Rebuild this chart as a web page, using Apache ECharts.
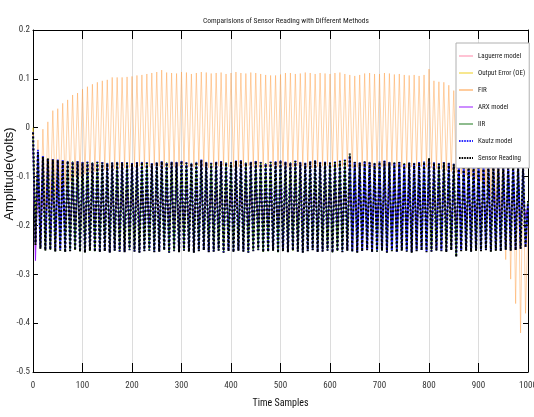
<!DOCTYPE html>
<html>
<head>
<meta charset="utf-8">
<script src="https://cdn.jsdelivr.net/npm/echarts@6/dist/echarts.min.js"></script>
<style>html,body{margin:0;padding:0;background:#fff}#c{width:534px;height:417px}</style>
</head>
<body>
<div id="c"></div>
<script>
// Time samples: readings shown at every half cycle (period = 10 samples)
const samplesPerCycle = 10;
const xTicks = [0,100,200,300,400,500,600,700,800,900,1000];
const yTicks = [-0.5,-0.4,-0.3,-0.2,-0.1,0,0.1,0.2];

// Peaks at samples 0,10,...,1000 ; troughs at samples 5,15,...,995
const sensorPeaks = [-0.010,-0.050,-0.060,-0.063,-0.065,-0.066,-0.067,-0.068,-0.070,-0.069,
-0.071,-0.070,-0.072,-0.070,-0.071,-0.073,-0.072,-0.070,-0.071,-0.072,
-0.073,-0.071,-0.070,-0.072,-0.074,-0.071,-0.069,-0.072,-0.070,-0.071,
-0.068,-0.072,-0.073,-0.070,-0.066,-0.071,-0.073,-0.070,-0.069,-0.072,
-0.071,-0.068,-0.067,-0.072,-0.070,-0.068,-0.071,-0.074,-0.070,-0.069,
-0.067,-0.070,-0.072,-0.068,-0.071,-0.073,-0.069,-0.067,-0.071,-0.070,
-0.072,-0.070,-0.068,-0.066,-0.053,-0.070,-0.072,-0.069,-0.071,-0.073,
-0.070,-0.068,-0.071,-0.072,-0.070,-0.074,-0.072,-0.073,-0.071,-0.070,
-0.062,-0.072,-0.074,-0.071,-0.073,-0.075,-0.072,-0.074,-0.073,-0.075,
-0.074,-0.072,-0.075,-0.073,-0.076,-0.074,-0.075,-0.073,-0.076,-0.080,
-0.150];
const sensorTroughs = [-0.240,-0.248,-0.252,-0.250,-0.254,-0.252,-0.255,-0.253,-0.251,-0.254,
-0.256,-0.252,-0.254,-0.255,-0.253,-0.256,-0.252,-0.254,-0.255,-0.251,
-0.254,-0.256,-0.253,-0.252,-0.255,-0.254,-0.251,-0.256,-0.253,-0.255,
-0.252,-0.254,-0.256,-0.253,-0.251,-0.255,-0.254,-0.252,-0.256,-0.253,
-0.255,-0.252,-0.254,-0.256,-0.253,-0.251,-0.255,-0.254,-0.252,-0.256,
-0.253,-0.255,-0.252,-0.254,-0.256,-0.253,-0.251,-0.255,-0.254,-0.252,
-0.256,-0.253,-0.255,-0.252,-0.254,-0.256,-0.253,-0.251,-0.255,-0.254,
-0.252,-0.256,-0.253,-0.255,-0.252,-0.254,-0.256,-0.253,-0.251,-0.255,
-0.254,-0.252,-0.253,-0.255,-0.251,-0.265,-0.253,-0.252,-0.254,-0.252,
-0.253,-0.251,-0.254,-0.252,-0.253,-0.250,-0.252,-0.251,-0.248,-0.245];

const kautzPeaks = [-0.005,-0.045,-0.058,-0.062,-0.064,-0.065,-0.066,-0.068,-0.069,-0.068,
-0.070,-0.069,-0.071,-0.069,-0.070,-0.072,-0.071,-0.069,-0.070,-0.071,
-0.072,-0.070,-0.069,-0.071,-0.073,-0.070,-0.068,-0.071,-0.069,-0.070,
-0.067,-0.071,-0.072,-0.069,-0.065,-0.070,-0.072,-0.069,-0.068,-0.071,
-0.070,-0.067,-0.066,-0.071,-0.069,-0.067,-0.070,-0.073,-0.069,-0.068,
-0.066,-0.069,-0.071,-0.067,-0.070,-0.072,-0.068,-0.066,-0.070,-0.069,
-0.071,-0.069,-0.067,-0.065,-0.058,-0.069,-0.071,-0.068,-0.070,-0.072,
-0.069,-0.067,-0.070,-0.071,-0.069,-0.073,-0.071,-0.072,-0.070,-0.069,
-0.064,-0.071,-0.073,-0.070,-0.072,-0.074,-0.071,-0.073,-0.072,-0.074,
-0.073,-0.071,-0.074,-0.072,-0.075,-0.073,-0.074,-0.072,-0.075,-0.082,
-0.155];
const kautzTroughs = [-0.236,-0.245,-0.250,-0.249,-0.252,-0.251,-0.253,-0.252,-0.250,-0.253,
-0.255,-0.251,-0.253,-0.254,-0.252,-0.255,-0.251,-0.253,-0.254,-0.250,
-0.253,-0.255,-0.252,-0.251,-0.254,-0.253,-0.250,-0.255,-0.252,-0.254,
-0.251,-0.253,-0.255,-0.252,-0.250,-0.254,-0.253,-0.251,-0.255,-0.252,
-0.254,-0.251,-0.253,-0.255,-0.252,-0.250,-0.254,-0.253,-0.251,-0.255,
-0.252,-0.254,-0.251,-0.253,-0.255,-0.252,-0.250,-0.254,-0.253,-0.251,
-0.255,-0.252,-0.254,-0.251,-0.253,-0.255,-0.252,-0.250,-0.254,-0.253,
-0.251,-0.255,-0.252,-0.254,-0.251,-0.253,-0.255,-0.252,-0.250,-0.254,
-0.253,-0.251,-0.252,-0.254,-0.250,-0.262,-0.252,-0.251,-0.253,-0.251,
-0.252,-0.250,-0.253,-0.251,-0.252,-0.249,-0.251,-0.250,-0.247,-0.244];

const firPeaks = [-0.010,-0.025,-0.003,0.012,0.035,0.039,0.050,0.057,0.067,0.071,
0.079,0.084,0.089,0.093,0.096,0.098,0.103,0.103,0.103,0.104,
0.105,0.107,0.108,0.110,0.112,0.114,0.118,0.113,0.112,0.111,
0.114,0.113,0.110,0.112,0.114,0.113,0.111,0.112,0.113,0.110,
0.112,0.114,0.112,0.111,0.113,0.112,0.110,0.108,0.107,0.107,
0.109,0.112,0.112,0.110,0.111,0.113,0.112,0.110,0.112,0.111,
0.110,0.112,0.113,0.110,0.108,0.106,0.108,0.111,0.112,0.110,
0.110,0.112,0.111,0.109,0.110,0.108,0.107,0.108,0.106,0.108,
0.120,0.096,0.094,0.093,0.087,0.076,0.070,0.060,0.050,0.040,
0.030,0.020,0.010,0.000,-0.010,-0.020,-0.030,-0.040,-0.050,-0.060,
-0.200];
const firTroughs = [-0.200,-0.190,-0.170,-0.150,-0.140,-0.130,-0.120,-0.110,-0.100,-0.100,
-0.095,-0.092,-0.090,-0.088,-0.086,-0.085,-0.084,-0.083,-0.082,-0.082,
-0.080,-0.079,-0.081,-0.080,-0.078,-0.079,-0.081,-0.082,-0.080,-0.079,
-0.078,-0.080,-0.081,-0.079,-0.080,-0.082,-0.081,-0.079,-0.078,-0.080,
-0.081,-0.080,-0.079,-0.078,-0.080,-0.081,-0.082,-0.080,-0.079,-0.080,
-0.079,-0.081,-0.080,-0.078,-0.079,-0.081,-0.082,-0.080,-0.079,-0.078,
-0.080,-0.081,-0.079,-0.080,-0.082,-0.081,-0.079,-0.078,-0.080,-0.081,
-0.080,-0.079,-0.078,-0.080,-0.081,-0.082,-0.080,-0.079,-0.080,-0.081,
-0.082,-0.084,-0.085,-0.088,-0.090,-0.092,-0.095,-0.098,-0.100,-0.105,
-0.110,-0.120,-0.140,-0.170,-0.200,-0.270,-0.310,-0.360,-0.420,-0.380];

const arxPeaks = [-0.040,-0.090,-0.105,-0.112,-0.118,-0.120,-0.122,-0.121,-0.123,-0.125,
-0.124,-0.122,-0.120,-0.118,-0.117,-0.119,-0.121,-0.124,-0.126,-0.127,
-0.126,-0.124,-0.121,-0.119,-0.117,-0.116,-0.118,-0.121,-0.124,-0.126,
-0.127,-0.125,-0.122,-0.119,-0.117,-0.118,-0.120,-0.123,-0.125,-0.127,
-0.126,-0.123,-0.120,-0.118,-0.117,-0.119,-0.122,-0.125,-0.127,-0.126,
-0.124,-0.121,-0.118,-0.117,-0.118,-0.121,-0.124,-0.126,-0.127,-0.125,
-0.122,-0.119,-0.117,-0.118,-0.120,-0.123,-0.126,-0.127,-0.125,-0.122,
-0.119,-0.117,-0.118,-0.121,-0.124,-0.126,-0.127,-0.124,-0.121,-0.118,
-0.117,-0.119,-0.122,-0.125,-0.127,-0.126,-0.123,-0.120,-0.118,-0.117,
-0.119,-0.122,-0.125,-0.127,-0.125,-0.122,-0.120,-0.121,-0.130,-0.140,
-0.160];
const arxTroughs = [-0.272,-0.235,-0.215,-0.205,-0.200,-0.198,-0.197,-0.199,-0.201,-0.203,
-0.202,-0.200,-0.197,-0.195,-0.196,-0.198,-0.201,-0.203,-0.204,-0.202,
-0.199,-0.196,-0.195,-0.197,-0.200,-0.203,-0.204,-0.202,-0.199,-0.196,
-0.195,-0.197,-0.200,-0.203,-0.204,-0.201,-0.198,-0.196,-0.195,-0.198,
-0.201,-0.203,-0.204,-0.201,-0.198,-0.195,-0.196,-0.199,-0.202,-0.204,
-0.203,-0.200,-0.197,-0.195,-0.196,-0.199,-0.202,-0.204,-0.203,-0.200,
-0.197,-0.195,-0.197,-0.200,-0.203,-0.204,-0.202,-0.199,-0.196,-0.195,
-0.198,-0.201,-0.204,-0.203,-0.200,-0.197,-0.195,-0.196,-0.199,-0.202,
-0.204,-0.203,-0.200,-0.197,-0.195,-0.197,-0.200,-0.203,-0.204,-0.201,
-0.198,-0.196,-0.195,-0.198,-0.201,-0.203,-0.200,-0.195,-0.190,-0.185];

const laguerrePeaks = [-0.030,-0.100,-0.115,-0.122,-0.128,-0.130,-0.131,-0.130,-0.132,-0.133,
-0.132,-0.130,-0.128,-0.127,-0.128,-0.130,-0.132,-0.134,-0.135,-0.134,
-0.132,-0.130,-0.128,-0.127,-0.128,-0.131,-0.133,-0.135,-0.134,-0.132,
-0.130,-0.128,-0.127,-0.129,-0.131,-0.133,-0.135,-0.134,-0.131,-0.129,
-0.127,-0.128,-0.130,-0.132,-0.134,-0.135,-0.133,-0.130,-0.128,-0.127,
-0.129,-0.131,-0.134,-0.135,-0.133,-0.131,-0.128,-0.127,-0.128,-0.130,
-0.133,-0.135,-0.134,-0.132,-0.129,-0.127,-0.128,-0.131,-0.133,-0.135,
-0.134,-0.131,-0.129,-0.127,-0.128,-0.130,-0.133,-0.135,-0.134,-0.132,
-0.129,-0.127,-0.128,-0.131,-0.133,-0.135,-0.134,-0.131,-0.128,-0.127,
-0.128,-0.131,-0.133,-0.135,-0.133,-0.130,-0.128,-0.130,-0.135,-0.145,
-0.165];
const laguerreTroughs = [-0.250,-0.220,-0.205,-0.198,-0.194,-0.192,-0.191,-0.193,-0.195,-0.194,
-0.192,-0.190,-0.189,-0.190,-0.192,-0.194,-0.195,-0.193,-0.191,-0.189,
-0.190,-0.192,-0.194,-0.195,-0.193,-0.191,-0.189,-0.190,-0.192,-0.194,
-0.195,-0.193,-0.190,-0.189,-0.190,-0.193,-0.195,-0.194,-0.192,-0.190,
-0.189,-0.191,-0.193,-0.195,-0.194,-0.191,-0.189,-0.190,-0.192,-0.194,
-0.195,-0.193,-0.191,-0.189,-0.190,-0.192,-0.194,-0.195,-0.193,-0.190,
-0.189,-0.190,-0.193,-0.195,-0.194,-0.192,-0.190,-0.189,-0.191,-0.193,
-0.195,-0.194,-0.191,-0.189,-0.190,-0.192,-0.194,-0.195,-0.193,-0.191,
-0.189,-0.190,-0.192,-0.194,-0.195,-0.193,-0.191,-0.189,-0.190,-0.192,
-0.194,-0.195,-0.193,-0.191,-0.189,-0.190,-0.192,-0.190,-0.185,-0.180];

const oePeaks = [0.000,-0.055,-0.062,-0.064,-0.066,-0.067,-0.068,-0.069,-0.070,-0.070,
-0.071,-0.071,-0.072,-0.071,-0.072,-0.073,-0.072,-0.071,-0.072,-0.072,
-0.073,-0.072,-0.071,-0.072,-0.073,-0.072,-0.070,-0.072,-0.071,-0.071,
-0.070,-0.072,-0.073,-0.071,-0.068,-0.071,-0.073,-0.071,-0.070,-0.072,
-0.071,-0.069,-0.069,-0.072,-0.071,-0.069,-0.071,-0.073,-0.071,-0.070,
-0.069,-0.071,-0.072,-0.069,-0.071,-0.073,-0.070,-0.069,-0.071,-0.071,
-0.072,-0.071,-0.069,-0.068,-0.062,-0.071,-0.072,-0.070,-0.071,-0.073,
-0.071,-0.069,-0.071,-0.072,-0.071,-0.073,-0.072,-0.073,-0.072,-0.071,
-0.066,-0.072,-0.073,-0.072,-0.073,-0.074,-0.072,-0.073,-0.073,-0.074,
-0.074,-0.072,-0.074,-0.073,-0.075,-0.074,-0.075,-0.074,-0.076,-0.085,
-0.150];
const oeTroughs = [-0.200,-0.245,-0.250,-0.249,-0.252,-0.251,-0.253,-0.252,-0.250,-0.252,
-0.254,-0.251,-0.252,-0.253,-0.252,-0.254,-0.251,-0.252,-0.253,-0.250,
-0.252,-0.254,-0.252,-0.251,-0.253,-0.252,-0.250,-0.254,-0.252,-0.253,
-0.251,-0.252,-0.254,-0.252,-0.250,-0.253,-0.252,-0.251,-0.254,-0.252,
-0.253,-0.251,-0.252,-0.254,-0.252,-0.250,-0.253,-0.252,-0.251,-0.254,
-0.252,-0.253,-0.251,-0.252,-0.254,-0.252,-0.250,-0.253,-0.252,-0.251,
-0.254,-0.252,-0.253,-0.251,-0.252,-0.254,-0.252,-0.250,-0.253,-0.252,
-0.251,-0.254,-0.252,-0.253,-0.251,-0.252,-0.254,-0.252,-0.250,-0.253,
-0.252,-0.251,-0.252,-0.253,-0.250,-0.258,-0.252,-0.251,-0.252,-0.251,
-0.252,-0.250,-0.252,-0.251,-0.252,-0.249,-0.251,-0.250,-0.246,-0.240];

const iirPeaks = [-0.020,-0.050,-0.059,-0.063,-0.065,-0.066,-0.067,-0.068,-0.069,-0.069,
-0.070,-0.070,-0.071,-0.070,-0.071,-0.072,-0.071,-0.070,-0.071,-0.071,
-0.072,-0.071,-0.070,-0.071,-0.073,-0.071,-0.069,-0.071,-0.070,-0.070,
-0.068,-0.071,-0.072,-0.070,-0.067,-0.070,-0.072,-0.070,-0.069,-0.071,
-0.070,-0.068,-0.067,-0.071,-0.070,-0.068,-0.070,-0.073,-0.070,-0.069,
-0.067,-0.070,-0.071,-0.068,-0.070,-0.072,-0.069,-0.067,-0.070,-0.070,
-0.071,-0.070,-0.068,-0.066,-0.056,-0.070,-0.071,-0.069,-0.070,-0.072,
-0.070,-0.068,-0.070,-0.071,-0.070,-0.073,-0.071,-0.072,-0.071,-0.070,
-0.063,-0.071,-0.073,-0.071,-0.072,-0.074,-0.072,-0.073,-0.072,-0.074,
-0.073,-0.072,-0.074,-0.072,-0.075,-0.073,-0.074,-0.073,-0.075,-0.081,
-0.152];
const iirTroughs = [-0.238,-0.246,-0.251,-0.250,-0.253,-0.251,-0.254,-0.252,-0.250,-0.253,
-0.255,-0.252,-0.253,-0.254,-0.252,-0.255,-0.252,-0.253,-0.254,-0.250,
-0.253,-0.255,-0.252,-0.251,-0.254,-0.253,-0.250,-0.255,-0.252,-0.254,
-0.251,-0.253,-0.255,-0.252,-0.250,-0.254,-0.253,-0.251,-0.255,-0.252,
-0.254,-0.251,-0.253,-0.255,-0.252,-0.250,-0.254,-0.253,-0.251,-0.255,
-0.252,-0.254,-0.251,-0.253,-0.255,-0.252,-0.250,-0.254,-0.253,-0.251,
-0.255,-0.252,-0.254,-0.251,-0.253,-0.255,-0.252,-0.250,-0.254,-0.253,
-0.251,-0.255,-0.252,-0.254,-0.251,-0.253,-0.255,-0.252,-0.250,-0.254,
-0.253,-0.251,-0.252,-0.254,-0.250,-0.263,-0.252,-0.251,-0.253,-0.251,
-0.252,-0.250,-0.253,-0.251,-0.252,-0.249,-0.251,-0.250,-0.247,-0.244];

const seriesNames = ['Laguerre model','Output Error (OE)','FIR','ARX model','IIR','Kautz model','Sensor Reading'];
const seriesColors = ['#ff88aa','#f0d020','#ff9a3c','#9a1cff','#1f7a1f','#2a2aff','#000000'];

function interleave(peaks, troughs) {
  const out = [];
  for (let i = 0; i < peaks.length; i++) {
    out.push([i * samplesPerCycle, peaks[i]]);
    if (i < troughs.length) out.push([i * samplesPerCycle + samplesPerCycle / 2, troughs[i]]);
  }
  return out;
}

const COND = '"Roboto Condensed", "DejaVu Sans Condensed", sans-serif';
// legend icons: bounding box 14 x 10 with a thin line across the middle
const solidIcon = 'path://M0,0h0.01v0.01h-0.01z M0,4.4h14v1.2h-14z M13.99,9.99h0.01v0.01h-0.01z';
const dotIcon = 'path://M0,0h0.01v0.01h-0.01z M0,4.1h1.6v1.8h-1.6z M2.6,4.1h1.6v1.8h-1.6z M5.2,4.1h1.6v1.8h-1.6z M7.8,4.1h1.6v1.8h-1.6z M10.4,4.1h1.6v1.8h-1.6z M13,4.1h1v1.8h-1z M13.99,9.99h0.01v0.01h-0.01z';

const chart = echarts.init(document.getElementById('c'), null, {renderer: 'canvas'});

const baseLine = (idx, data, width, extra) => ({
  name: seriesNames[idx], type: 'line', data: data, symbol: 'none', showSymbol: false,
  silent: true, animation: false,
  lineStyle: Object.assign({color: seriesColors[idx], width: width}, extra || {}),
  itemStyle: {color: seriesColors[idx]}
});

chart.setOption({
  backgroundColor: '#ffffff',
  animation: false,
  title: {
    text: 'Comparisions of Sensor Reading with Different Methods',
    left: 281, top: 12, textAlign: 'center',
    textStyle: {fontFamily: COND, fontSize: 7.5, fontWeight: 'normal', color: '#222'}
  },
  grid: {left: 33, right: 6, top: 30, bottom: 45, containLabel: false, outerBoundsMode: 'none'},
  legend: {
    orient: 'vertical', left: 456, top: 43,
    backgroundColor: '#ffffff', borderColor: '#b0b0b0', borderWidth: 1,
    padding: [8, 4, 5, 3], itemGap: 7, itemWidth: 14, itemHeight: 10,
    textStyle: {fontFamily: COND, fontSize: 7, color: '#222'},
    data: seriesNames.map((n, i) => ({
      name: n, icon: i >= 5 ? dotIcon : solidIcon,
      itemStyle: {color: seriesColors[i], opacity: 1}
    }))
  },
  xAxis: [{
    type: 'value', min: xTicks[0], max: xTicks[xTicks.length-1], interval: 100,
    name: 'Time Samples', nameLocation: 'middle', nameGap: 26, nameMoveOverlap: false,
    nameTextStyle: {fontFamily: COND, fontSize: 10, color: '#111'},
    axisLine: {show: true, onZero: false, lineStyle: {color: '#000', width: 1}},
    axisTick: {show: true, inside: true, length: 9, lineStyle: {color: '#000'}},
    axisLabel: {fontFamily: COND, fontSize: 9, color: '#333', margin: 9, formatter: v => String(v)},
    splitLine: {show: true, lineStyle: {color: '#dcdcdc', width: 1}}
  }, {
    type: 'value', position: 'top', min: xTicks[0], max: xTicks[xTicks.length-1], interval: 100,
    axisLine: {show: true, onZero: false, lineStyle: {color: '#000', width: 1}},
    axisTick: {show: true, inside: true, length: 9, lineStyle: {color: '#000'}},
    axisLabel: {show: false}, splitLine: {show: false}
  }],
  yAxis: [{
    type: 'value', min: yTicks[0], max: yTicks[yTicks.length-1], interval: 0.1,
    name: 'Amplitude(volts)', nameLocation: 'middle', nameGap: 17, nameMoveOverlap: false,
    nameTextStyle: {fontFamily: '"Liberation Sans", Arial, sans-serif', fontSize: 13, color: '#111',
      padding: [0, 0, 0, 54]},
    axisLine: {show: true, onZero: false, lineStyle: {color: '#000', width: 1}},
    axisTick: {show: true, inside: true, length: 5, lineStyle: {color: '#000'}},
    axisLabel: {fontFamily: COND, fontSize: 9, color: '#333', margin: 3,
      formatter: v => String(Math.round(v * 10) / 10)},
    splitLine: {show: false}
  }, {
    type: 'value', position: 'right', min: yTicks[0], max: yTicks[yTicks.length-1], interval: 0.1,
    axisLine: {show: true, onZero: false, lineStyle: {color: '#000', width: 1}},
    axisTick: {show: true, inside: true, length: 5, lineStyle: {color: '#000'}},
    axisLabel: {show: false}, splitLine: {show: false}
  }],
  series: [
    baseLine(0, interleave(laguerrePeaks, laguerreTroughs), 1),
    baseLine(1, interleave(oePeaks, oeTroughs), 1),
    baseLine(2, interleave(firPeaks, firTroughs), 0.8, {opacity: 0.55}),
    baseLine(3, interleave(arxPeaks, arxTroughs), 1),
    baseLine(4, interleave(iirPeaks, iirTroughs), 1),
    baseLine(5, interleave(kautzPeaks, kautzTroughs), 2, {type: [2, 2], dashOffset: 2}),
    baseLine(6, interleave(sensorPeaks, sensorTroughs), 2, {type: [2, 2]})
  ]
});
</script>
</body>
</html>
